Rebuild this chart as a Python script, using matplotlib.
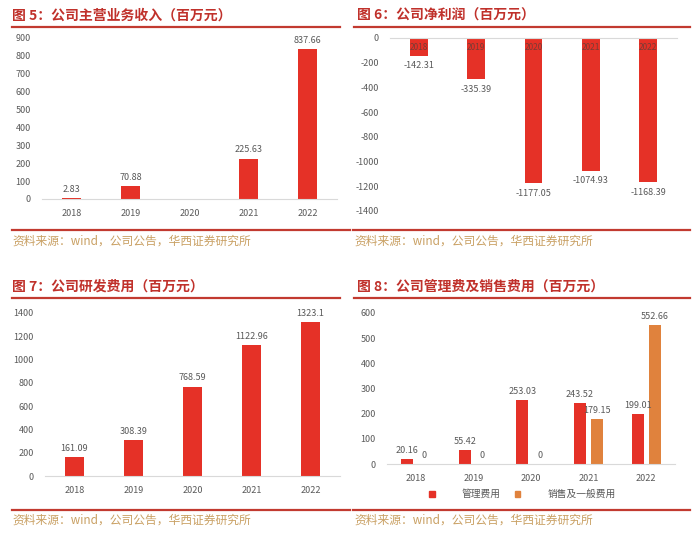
import numpy as np
import matplotlib
matplotlib.use('Agg')
import matplotlib.pyplot as plt
from matplotlib.patches import Rectangle

plt.rcParams['font.family'] = ['Noto Sans CJK SC', 'DejaVu Sans']

years = ['2018', '2019', '2020', '2021', '2022']

revenue = [2.83, 70.88, np.nan, 225.63, 837.66]          # 2020 missing in source
net_profit = [-142.31, -335.39, -1177.05, -1074.93, -1168.39]
rd_expense = [161.09, 308.39, 768.59, 1122.96, 1323.1]
admin_expense = [20.16, 55.42, 253.03, 243.52, 199.01]
selling_expense = [0, 0, 0, 179.15, 552.66]

titles = ['图 5：公司主营业务收入（百万元）',
          '图 6：公司净利润（百万元）',
          '图 7：公司研发费用（百万元）',
          '图 8：公司管理费及销售费用（百万元）']
legend_labels = ['管理费用', '销售及一般费用']
source = '资料来源：wind，公司公告，华西证券研究所'

W, H = 700, 536
RED = '#E53127'
ORANGE = '#E0823D'
TITLE_RED = '#C0312B'
LINE_RED = '#C23A30'
SRC = '#C9A063'
GRAY = '#595959'
AXIS = '#D9D9D9'


def rect(x0, y0, x1, y1):
    return [x0 / W, 1 - y1 / H, (x1 - x0) / W, (y1 - y0) / H]


def hline(fig, x0, x1, y, lw=1.6):
    fig.add_artist(plt.Line2D([x0 / W, x1 / W], [1 - y / H, 1 - y / H],
                              color=LINE_RED, lw=lw))


def style(ax, ylim, ticks, zero_top=False):
    ax.set_xlim(-0.5, 4.5)
    ax.set_ylim(*ylim)
    ax.set_yticks(ticks)
    ax.set_yticklabels([str(t) for t in ticks])
    ax.set_xticks(range(5))
    ax.set_xticklabels(years)
    ax.tick_params(length=0, labelsize=6.5, colors=GRAY, pad=7)
    ax.tick_params(axis='y', pad=8)
    for s in ax.spines.values():
        s.set_visible(False)
    sp = 'top' if zero_top else 'bottom'
    ax.spines[sp].set_visible(True)
    ax.spines[sp].set_color(AXIS)
    ax.spines[sp].set_linewidth(0.8)
    ax.set_facecolor('none')


def label_bars(ax, bars, values, below=False, color=GRAY):
    for b, v in zip(bars, values):
        if np.isnan(v):
            continue
        x = b.get_x() + b.get_width() / 2
        txt = f'{v:g}' if v != 0 else '0'
        if below:
            ax.annotate(txt, (x, v), xytext=(0, -4), textcoords='offset points',
                        ha='center', va='top', fontsize=6.5, color=color)
        else:
            ax.annotate(txt, (x, v), xytext=(0, 3), textcoords='offset points',
                        ha='center', va='bottom', fontsize=6.5, color=color)


fig = plt.figure(figsize=(7, 5.36), dpi=100)
fig.patch.set_facecolor('white')

# titles, rules and source lines
title_pos = [(12, 16), (357, 16), (12, 287), (357, 287)]
for (tx, ty), t in zip(title_pos, titles):
    fig.text(tx / W, 1 - ty / H, t, ha='left', va='center', fontsize=10,
             color=TITLE_RED, fontweight='bold')
hline(fig, 12, 340, 27)
hline(fig, 354, 690, 27)
hline(fig, 12, 340, 298)
hline(fig, 354, 690, 298)
hline(fig, 12, 350, 230)
hline(fig, 353, 690, 230)
hline(fig, 12, 350, 510)
hline(fig, 353, 690, 510)
for sx, sy in [(12, 241), (354, 241), (12, 520), (354, 520)]:
    fig.text(sx / W, 1 - sy / H, source, ha='left', va='center', fontsize=8.5,
             color=SRC)

x = np.arange(5)

# Figure 5 - revenue
ax1 = fig.add_axes(rect(42, 38, 337, 199))
b1 = ax1.bar(x, np.nan_to_num(revenue), width=0.33, color=RED)
style(ax1, (0, 900), list(range(0, 901, 100)))
label_bars(ax1, b1, revenue)

# Figure 6 - net profit
ax2 = fig.add_axes(rect(390, 38, 677, 211))
b2 = ax2.bar(x, net_profit, width=0.31, color=RED)
style(ax2, (-1400, 0), list(range(-1400, 1, 200)), zero_top=True)
ax2.set_xticklabels([])
for xi, yr in zip(x, years):
    ax2.text(xi, -80, yr, ha='center', va='center', fontsize=6, color='#7a3b35')
label_bars(ax2, b2, net_profit, below=True)

# Figure 7 - R&D
ax3 = fig.add_axes(rect(45, 313, 340, 476))
b3 = ax3.bar(x, rd_expense, width=0.31, color=RED)
style(ax3, (0, 1400), list(range(0, 1401, 200)))
label_bars(ax3, b3, rd_expense)

# Figure 8 - admin and selling expenses
ax4 = fig.add_axes(rect(387, 313, 675, 464))
b4a = ax4.bar(x - 0.15, admin_expense, width=0.21, color=RED)
b4b = ax4.bar(x + 0.15, selling_expense, width=0.21, color=ORANGE)
style(ax4, (0, 600), list(range(0, 601, 100)))
label_bars(ax4, b4a, admin_expense)
label_bars(ax4, b4b, selling_expense)
handles = [Rectangle((0, 0), 1, 1, color=RED), Rectangle((0, 0), 1, 1, color=ORANGE)]
leg = ax4.legend(handles, legend_labels, ncol=2, loc='center',
                 bbox_to_anchor=(0.47, -0.2), frameon=False, fontsize=7,
                 handlelength=0.6, handleheight=0.6, handletextpad=2.8,
                 columnspacing=1.4)
for t in leg.get_texts():
    t.set_color(GRAY)

fig.savefig('out.png', dpi=100, facecolor='white')
